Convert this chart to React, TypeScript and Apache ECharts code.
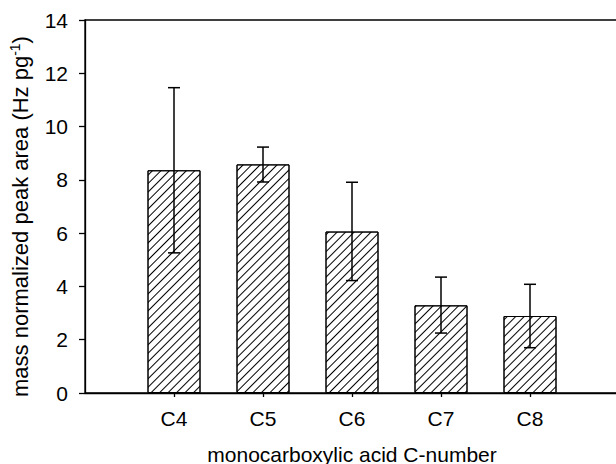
import React, { useEffect, useRef } from "react";
import * as echarts from "echarts";

const categories = ["C4", "C5", "C6", "C7", "C8"];
const carbonNumbers = [4, 5, 6, 7, 8];
const meanValues = [8.36, 8.58, 6.06, 3.29, 2.89];
const errLow = [5.26, 7.92, 4.22, 2.25, 1.7];
const errHigh = [11.46, 9.23, 7.91, 4.35, 4.08];
const yTicks = [0, 2, 4, 6, 8, 10, 12, 14];

export default function App() {
  const ref = useRef<HTMLDivElement>(null);
  useEffect(() => {
    if (!ref.current) return;
    const chart = echarts.init(ref.current, null, { renderer: "svg" });
    const font = "'Liberation Sans', Arial, sans-serif";
    const labelOf = (v: number) => {
      const i = carbonNumbers.indexOf(v);
      return i >= 0 ? categories[i] : "";
    };
    chart.setOption({
      animation: false,
      backgroundColor: "#fff",
      grid: {
        left: 85,
        top: 20,
        width: 534,
        bottom: 71,
        outerBoundsMode: "none",
        containLabel: false,
        show: true,
        borderColor: "#000",
        borderWidth: 1.3,
      },
      xAxis: [
        {
          type: "value",
          min: 3,
          max: 9,
          interval: 1,
          splitLine: { show: false },
          axisLine: { show: true, lineStyle: { color: "#000", width: 1.3 } },
          axisTick: { show: true, length: 4, customValues: carbonNumbers, lineStyle: { color: "#000", width: 1.3 } },
          axisLabel: {
            customValues: carbonNumbers,
            formatter: (v: number) => labelOf(v),
            color: "#000",
            fontFamily: font,
            fontSize: 21,
            margin: 15,
          },
          name: "monocarboxylic acid C-number",
          nameLocation: "middle",
          nameGap: 51,
          nameTextStyle: { color: "#000", fontFamily: font, fontSize: 21 },
        },
      ],
      yAxis: {
        type: "value",
        min: 0,
        max: 14,
        interval: 2,
        splitLine: { show: false },
        axisLine: { show: true, lineStyle: { color: "#000", width: 1.3 } },
        axisTick: { show: true, inside: false, length: 6, lineStyle: { color: "#000", width: 1.3 } },
        axisLabel: {
          color: "#000",
          fontFamily: font,
          fontSize: 21,
          margin: 17,
          formatter: (v: number) => (yTicks.includes(v) ? String(v) : ""),
        },
        name: "mass normalized peak area (Hz pg{sup|-1})",
        nameLocation: "middle",
        nameGap: 40,
        nameTextStyle: {
          color: "#000",
          fontFamily: font,
          fontSize: 22,
          lineHeight: 26,
          padding: [0, 20, 0, 0],
          rich: {
            sup: { fontSize: 14, fontFamily: font, color: "#000", verticalAlign: "top", lineHeight: 26, padding: [0, 0, 11, 0] },
          },
        },
      },
      series: [
        {
          type: "bar",
          barWidth: 53,
          data: carbonNumbers.map((c, i) => [c, meanValues[i]]),
          itemStyle: {
            color: "#fff",
            borderColor: "#000",
            borderWidth: 1,
            decal: {
              symbol: "rect",
              symbolSize: 1,
              color: "#000",
              backgroundColor: "#fff",
              dashArrayX: [[1, 0]],
              dashArrayY: [1, 4.5],
              rotation: -Math.PI / 4,
            },
          },
        },
        {
          type: "custom",
          data: carbonNumbers.map((c, i) => [c, errLow[i], errHigh[i]]),
          renderItem: (params: any, api: any) => {
            const x = api.value(0);
            const lo = api.coord([x, api.value(1)]);
            const hi = api.coord([x, api.value(2)]);
            const hw = 6;
            const style = { stroke: "#000", lineWidth: 1.5 };
            return {
              type: "group",
              children: [
                { type: "line", shape: { x1: lo[0], y1: lo[1], x2: hi[0], y2: hi[1] }, style },
                { type: "line", shape: { x1: hi[0] - hw, y1: hi[1], x2: hi[0] + hw, y2: hi[1] }, style },
                { type: "line", shape: { x1: lo[0] - hw, y1: lo[1], x2: lo[0] + hw, y2: lo[1] }, style },
              ],
            };
          },
          z: 5,
        },
      ],
    });
    return () => chart.dispose();
  }, []);
  return <div ref={ref} style={{ position: "fixed", left: 0, top: 0, width: 616, height: 464 }} />;
}
